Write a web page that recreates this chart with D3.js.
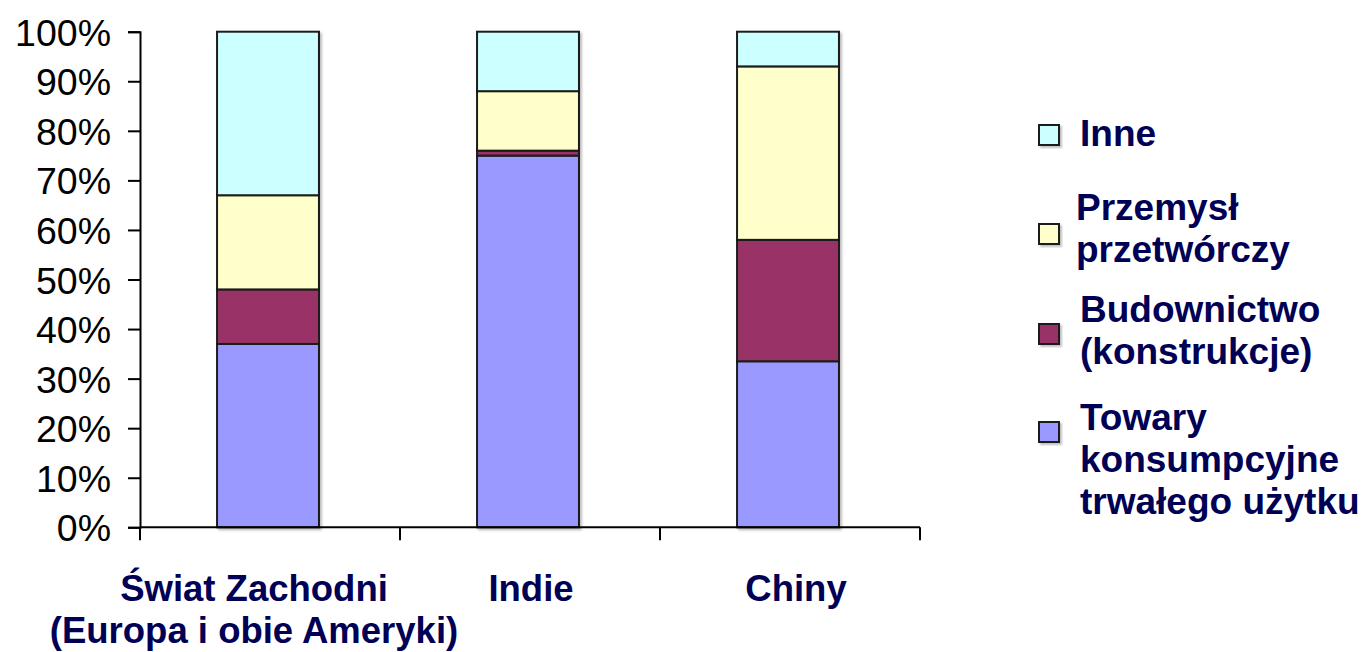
<!DOCTYPE html>
<html>
<head>
<meta charset="utf-8">
<script src="https://cdn.jsdelivr.net/npm/d3@7"></script>
<style>
  html, body { margin: 0; padding: 0; background: #fff; }
  svg { display: block; }
</style>
</head>
<body>
<svg id="chart" width="1364" height="652"></svg>
<script>
// Regions along the x axis (each label may span two lines)
const categories = ["Świat Zachodni", "Indie", "Chiny"];
const categoryLines = [["Świat Zachodni", "(Europa i obie Ameryki)"], ["Indie"], ["Chiny"]];

// Share of each sector, in percent, per region (bottom to top of the stack)
const towary = [37, 75, 33.5];
const budownictwo = [11, 1, 24.5];
const przemysl = [19, 12, 35];
const inne = [33, 12, 7];

const seriesKeys = ["towary", "budownictwo", "przemysl", "inne"];
const seriesValues = { towary, budownictwo, przemysl, inne };
const seriesColors = { towary: "#9999ff", budownictwo: "#993366", przemysl: "#ffffcc", inne: "#ccffff" };

// Legend entries, top to bottom
const legendKeys = ["inne", "przemysl", "budownictwo", "towary"];
const legendLines = {
  inne: ["Inne"],
  przemysl: ["Przemysł", "przetwórczy"],
  budownictwo: ["Budownictwo", "(konstrukcje)"],
  towary: ["Towary", "konsumpcyjne", "trwałego użytku"]
};

const yTicks = [0, 10, 20, 30, 40, 50, 60, 70, 80, 90, 100];

const svg = d3.select("#chart");
const textColor = "#000055";

// Column positions (slightly left of the band centres) and the plot axes
const x = d3.scaleBand().domain(categories).range([138, 918]).paddingInner(0.608).paddingOuter(0.304);
const y = d3.scaleLinear().domain([0, 100]).range([527.3, 31.7]);

// Rows for the stack layout
const rows = categories.map((c, i) => {
  const r = { category: c };
  seriesKeys.forEach(k => { r[k] = seriesValues[k][i]; });
  return r;
});
const stacked = d3.stack().keys(seriesKeys)(rows);

// Soft shadow behind each column
const defs = svg.append("defs");
const f = defs.append("filter").attr("id", "shadow").attr("x", "-10%").attr("y", "-10%").attr("width", "130%").attr("height", "130%");
f.append("feDropShadow").attr("dx", 2).attr("dy", 2).attr("stdDeviation", 1).attr("flood-color", "#000").attr("flood-opacity", 0.25);

const bars = svg.append("g").attr("filter", "url(#shadow)");
stacked.forEach(layer => {
  bars.selectAll(null)
    .data(layer)
    .join("rect")
    .attr("x", d => x(d.data.category))
    .attr("width", x.bandwidth())
    .attr("y", d => y(d[1]))
    .attr("height", d => y(d[0]) - y(d[1]))
    .attr("fill", seriesColors[layer.key])
    .attr("stroke", "#1a1a1a")
    .attr("stroke-width", 2);
});

// Y axis
const yAxis = svg.append("g")
  .attr("transform", "translate(140,0)")
  .call(d3.axisLeft(y).tickValues(yTicks).tickFormat(d => d + "%").tickSize(12).tickPadding(17));
yAxis.select(".domain").attr("stroke", "#000").attr("stroke-width", 2);
yAxis.selectAll(".tick line").attr("stroke", "#000").attr("stroke-width", 2);
yAxis.selectAll(".tick text")
  .attr("font-family", "Liberation Sans, Arial, sans-serif")
  .attr("font-size", 37.5)
  .attr("fill", "#000")
  .attr("dy", "0.36em");

// X axis: ticks on the band boundaries
const xBounds = [140, 400, 660, 920];
const xAxis = svg.append("g");
xAxis.append("line")
  .attr("x1", 140).attr("x2", 920)
  .attr("y1", y(0)).attr("y2", y(0))
  .attr("stroke", "#000").attr("stroke-width", 2);
xAxis.selectAll(null)
  .data(xBounds)
  .join("line")
  .attr("x1", d => d).attr("x2", d => d)
  .attr("y1", y(0)).attr("y2", y(0) + 13)
  .attr("stroke", "#000").attr("stroke-width", 2);

// Category labels
const catOffsets = [-14, 3, 8];
categories.forEach((c, i) => {
  const cx = x(c) + x.bandwidth() / 2 + catOffsets[i];
  const t = svg.append("text")
    .attr("x", cx)
    .attr("y", 601)
    .attr("text-anchor", "middle")
    .attr("font-family", "Liberation Sans, Arial, sans-serif")
    .attr("font-weight", "bold")
    .attr("font-size", 36.5)
    .attr("fill", textColor);
  categoryLines[i].forEach((line, j) => {
    t.append("tspan")
      .attr("x", cx)
      .attr("dy", j === 0 ? 0 : 42)
      .text(line);
  });
});

// Legend
const legendSwatchY = { inne: 135, przemysl: 234, budownictwo: 334, towary: 432 };
const legendTextY = { inne: 146, przemysl: 220, budownictwo: 322, towary: 430 };
const legendTextX = { inne: 1080, przemysl: 1076, budownictwo: 1080, towary: 1080 };
const legend = svg.append("g");
legendKeys.forEach(k => {
  legend.append("rect")
    .attr("x", 1039).attr("y", legendSwatchY[k] - 10)
    .attr("width", 20).attr("height", 20)
    .attr("fill", seriesColors[k])
    .attr("stroke", "#1a1a1a").attr("stroke-width", 2)
    .attr("filter", "url(#shadow)");
  const t = legend.append("text")
    .attr("x", legendTextX[k])
    .attr("y", legendTextY[k])
    .attr("font-family", "Liberation Sans, Arial, sans-serif")
    .attr("font-weight", "bold")
    .attr("font-size", 37)
    .attr("fill", textColor);
  legendLines[k].forEach((line, j) => {
    t.append("tspan").attr("x", legendTextX[k]).attr("dy", j === 0 ? 0 : 42).text(line);
  });
});
</script>
</body>
</html>
